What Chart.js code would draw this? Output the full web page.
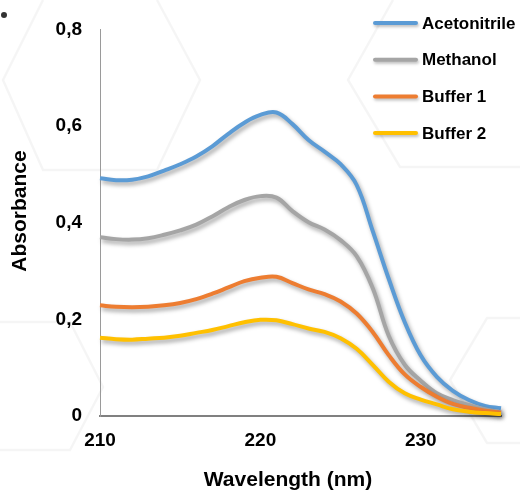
<!DOCTYPE html>
<html>
<head>
<meta charset="utf-8">
<script src="https://cdn.jsdelivr.net/npm/chart.js@4.4.1/dist/chart.umd.min.js"></script>
<style>
  html, body { margin: 0; padding: 0; background: #ffffff; }
  #wrap { width: 520px; height: 492px; position: relative; }
</style>
</head>
<body>
<div id="wrap"><canvas id="c" width="520" height="492"></canvas></div>
<script>
// ---- data ----
const wavelengths = [210,211,212,213,214,215,216,217,218,219,220,221,222,223,224,225,226,227,228,229,230,231,232,233,234,235];
const acetonitrile = [0.492,0.488,0.489,0.496,0.508,0.521,0.537,0.558,0.584,0.607,0.623,0.628,0.604,0.571,0.547,0.521,0.478,0.383,0.284,0.194,0.125,0.081,0.052,0.033,0.021,0.016];
const methanol     = [0.370,0.366,0.365,0.368,0.375,0.384,0.396,0.413,0.432,0.447,0.455,0.452,0.424,0.401,0.386,0.364,0.331,0.265,0.166,0.106,0.073,0.047,0.033,0.023,0.014,0.008];
const buffer1      = [0.229,0.226,0.225,0.226,0.229,0.234,0.242,0.253,0.266,0.279,0.286,0.288,0.275,0.262,0.252,0.237,0.212,0.174,0.126,0.086,0.060,0.040,0.025,0.017,0.011,0.007];
const buffer2      = [0.162,0.159,0.158,0.160,0.162,0.166,0.172,0.178,0.186,0.194,0.199,0.198,0.190,0.181,0.174,0.161,0.139,0.106,0.071,0.047,0.034,0.024,0.014,0.009,0.006,0.004];
const seriesNames  = ['Acetonitrile', 'Methanol', 'Buffer 1', 'Buffer 2'];
const seriesColors = ['#5B9BD5', '#A5A5A5', '#ED7D31', '#FFC000'];
const xTicks = [210, 220, 230];
const yTicks = [0, 0.2, 0.4, 0.6, 0.8];
const xTitle = 'Wavelength (nm)';
const yTitle = 'Absorbance';

const FONT = '"Liberation Sans", Arial, sans-serif';
const allSeries = [acetonitrile, methanol, buffer1, buffer2];

const datasets = allSeries.map((vals, i) => ({
  label: seriesNames[i],
  data: wavelengths.map((w, j) => ({ x: w, y: vals[j] })),
  borderColor: seriesColors[i],
  backgroundColor: seriesColors[i],
  borderWidth: 4,
  pointRadius: 0,
  pointHoverRadius: 0,
  tension: 0.4,
  fill: false,
  clip: false,
  order: allSeries.length - 1 - i
}));

// faint hexagon watermark in the background
const watermark = {
  id: 'watermark',
  beforeDraw(chart) {
    const ctx = chart.ctx;
    ctx.save();
    ctx.fillStyle = '#ffffff';
    ctx.fillRect(0, 0, chart.width, chart.height);
    ctx.strokeStyle = 'rgba(0,0,0,0.04)';
    ctx.lineWidth = 2.5;
    const polys = [
      [[43,0],[3,80],[43,170],[157,170],[200,80],[157,0]],
      [[393,0],[348,80],[400,167],[520,167]],
      [[0,322],[70,322],[103,387],[70,450],[0,450]],
      [[520,318],[487,318],[450,380],[487,443],[520,443]]
    ];
    polys.forEach(p => {
      ctx.beginPath();
      p.forEach((pt, k) => k ? ctx.lineTo(pt[0], pt[1]) : ctx.moveTo(pt[0], pt[1]));
      ctx.stroke();
    });
    ctx.fillStyle = '#333';
    ctx.beginPath();
    ctx.arc(4, 15, 3, 0, Math.PI * 2);
    ctx.fill();
    ctx.restore();
  }
};

// soft drop shadow under every line, as in the original
const shadow = {
  id: 'shadow',
  beforeDatasetDraw(chart) {
    const ctx = chart.ctx;
    ctx.save();
    ctx.shadowColor = 'rgba(0,0,0,0.35)';
    ctx.shadowBlur = 4;
    ctx.shadowOffsetX = 2;
    ctx.shadowOffsetY = 3;
  },
  afterDatasetDraw(chart) {
    chart.ctx.restore();
  }
};

// legend and axis titles
const annotations = {
  id: 'annotations',
  afterDraw(chart) {
    const ctx = chart.ctx;
    const area = chart.chartArea;
    ctx.save();
    // legend
    ctx.font = 'bold 17px ' + FONT;
    ctx.textBaseline = 'middle';
    ctx.textAlign = 'left';
    chart.data.datasets.forEach((ds, i) => {
      const y = 23 + i * 36.7;
      ctx.save();
      ctx.shadowColor = 'rgba(0,0,0,0.25)';
      ctx.shadowBlur = 3;
      ctx.shadowOffsetX = 1;
      ctx.shadowOffsetY = 2;
      ctx.strokeStyle = ds.borderColor;
      ctx.lineWidth = 4;
      ctx.lineCap = 'round';
      ctx.beginPath();
      ctx.moveTo(375, y);
      ctx.lineTo(416, y);
      ctx.stroke();
      ctx.restore();
      ctx.fillStyle = '#000';
      ctx.fillText(ds.label, 422, y + 1);
    });
    // axis titles
    ctx.font = 'bold 21px ' + FONT;
    ctx.fillStyle = '#000';
    ctx.textAlign = 'center';
    ctx.textBaseline = 'middle';
    ctx.fillText(xTitle, area.left + 188, 480);
    ctx.save();
    ctx.translate(20, 211);
    ctx.rotate(-Math.PI / 2);
    ctx.fillText(yTitle, 0, 0);
    ctx.restore();
    ctx.restore();
  }
};

new Chart(document.getElementById('c'), {
  type: 'line',
  data: { datasets },
  options: {
    responsive: false,
    animation: false,
    devicePixelRatio: 1,
    layout: { padding: { top: 22, right: 19, left: 0, bottom: 0 } },
    plugins: {
      legend: { display: false },
      tooltip: { enabled: false },
      title: { display: false }
    },
    scales: {
      x: {
        type: 'linear',
        min: 210,
        max: 235,
        afterBuildTicks: s => { s.ticks = xTicks.map(v => ({ value: v })); },
        afterFit: s => { s.height = 76; },
        grid: { display: false, drawTicks: false, tickLength: 0 },
        border: { display: true, color: '#808080', width: 2 },
        ticks: {
          padding: 13,
          color: '#000',
          maxRotation: 0,
          font: { family: FONT, size: 19, weight: 'bold' },
          callback: v => String(v)
        }
      },
      y: {
        type: 'linear',
        min: 0,
        max: 0.8,
        afterBuildTicks: s => { s.ticks = yTicks.map(v => ({ value: v })); },
        afterFit: s => { s.width = 100; },
        grid: { display: false, drawTicks: false, tickLength: 0 },
        border: { display: true, color: '#9a9a9a', width: 1 },
        ticks: {
          padding: 18,
          color: '#000',
          font: { family: FONT, size: 19, weight: 'bold' },
          callback: v => v === 0 ? '0' : Number(v).toFixed(1).replace('.', ',')
        }
      }
    }
  },
  plugins: [watermark, shadow, annotations]
});
</script>
</body>
</html>
